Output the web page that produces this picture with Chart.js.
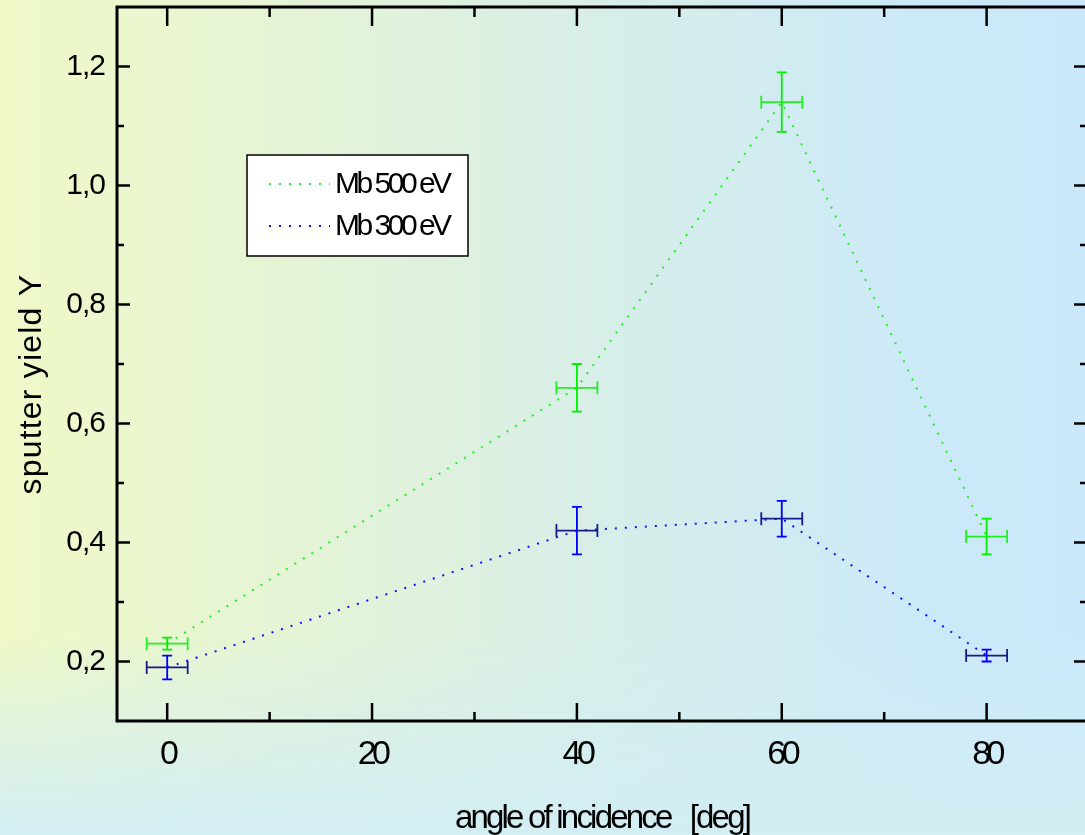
<!DOCTYPE html>
<html>
<head>
<meta charset="utf-8">
<script src="https://cdn.jsdelivr.net/npm/chart.js@4/dist/chart.umd.min.js"></script>
<style>
  html, body { margin: 0; padding: 0; overflow: hidden; }
  body {
    width: 1085px;
    height: 835px;
    background:
      linear-gradient(to bottom, rgba(210, 238, 244, 0) 76%, rgba(210, 238, 244, 1) 100%),
      linear-gradient(to right, #eff9c7 0%, #e3f3d9 32%, #d6eeea 58%, #cce9f8 85%, #cbe8fb 100%);
  }
  #wrap { position: absolute; left: 0; top: 0; width: 1100px; height: 835px; }
</style>
</head>
<body>
<div id="wrap"><canvas id="chart" width="1100" height="835"></canvas></div>
<script>
// angles [deg] and sputter yields
const angles = [0, 40, 60, 80];
const angleErr = [2, 2, 2, 2];
const yield500 = [0.23, 0.66, 1.14, 0.41];
const err500 = [0.01, 0.04, 0.05, 0.03];
const yield300 = [0.19, 0.42, 0.44, 0.21];
const err300 = [0.02, 0.04, 0.03, 0.01];

const xTickValues = [0, 10, 20, 30, 40, 50, 60, 70, 80];
const yTickValues = [0.2, 0.3, 0.4, 0.5, 0.6, 0.7, 0.8, 0.9, 1.0, 1.1, 1.2];
const xMajor = (v) => v % 20 === 0;
const yMajor = (v) => Math.round(v * 10) % 2 === 0;

const FONT = 'Liberation Sans, Arial, sans-serif';

const series = [
  { label: 'Mb 500 eV', y: yield500, err: err500, color: '#00f000', line: '#22f022', hbar: '#22f022' },
  { label: 'Mb 300 eV', y: yield300, err: err300, color: '#0000ff', line: '#1010ff', hbar: '#1a1a8c' },
];

// letter spacing per scale: [tick labels, title]
const spacing = { x: [-4.5, -2.8], y: [-1, 1.2] };

const textSpacing = {
  id: 'textSpacing',
  afterLayout(chart) {
    Object.keys(spacing).forEach((id) => {
      const scale = chart.scales[id];
      if (!scale || scale._spaced) return;
      ['drawLabels', 'drawTitle'].forEach((fn, k) => {
        const orig = scale[fn].bind(scale);
        scale[fn] = function (...args) {
          const ctx = chart.ctx;
          const prev = ctx.letterSpacing;
          ctx.letterSpacing = spacing[id][k] + 'px';
          orig(...args);
          ctx.letterSpacing = prev;
        };
      });
      scale._spaced = true;
    });
  },
};

// box round the plot with inward ticks on all four sides
const frame = {
  id: 'frame',
  afterDatasetsDraw(chart) {
    const { ctx, chartArea: a, scales } = chart;
    ctx.save();
    ctx.strokeStyle = '#000';
    ctx.lineWidth = 3;
    ctx.strokeRect(a.left, a.top, a.right - a.left, a.bottom - a.top);
    ctx.lineWidth = 2.5;
    ctx.beginPath();
    scales.x.ticks.forEach((t) => {
      const px = scales.x.getPixelForValue(t.value);
      const big = xMajor(t.value);
      ctx.moveTo(px, a.bottom);
      ctx.lineTo(px, a.bottom - (big ? 18 : 9));
      ctx.moveTo(px, a.top);
      ctx.lineTo(px, a.top + (big ? 19 : 10));
    });
    scales.y.ticks.forEach((t) => {
      const py = scales.y.getPixelForValue(t.value);
      const big = yMajor(t.value);
      ctx.moveTo(a.left, py);
      ctx.lineTo(a.left + (big ? 13 : 7), py);
      ctx.moveTo(a.right, py);
      ctx.lineTo(a.right - (big ? 13 : 7), py);
    });
    ctx.stroke();
    ctx.restore();
  },
};

const errorBars = {
  id: 'errorBars',
  afterDatasetsDraw(chart) {
    const { ctx, scales } = chart;
    const sx = scales.x, sy = scales.y;
    ctx.save();
    ctx.lineWidth = 1.8;
    series.forEach((s) => {
      angles.forEach((a, i) => {
        const cx = sx.getPixelForValue(a);
        const cy = sy.getPixelForValue(s.y[i]);
        const x0 = sx.getPixelForValue(a - angleErr[i]);
        const x1 = sx.getPixelForValue(a + angleErr[i]);
        const y0 = sy.getPixelForValue(s.y[i] - s.err[i]);
        const y1 = sy.getPixelForValue(s.y[i] + s.err[i]);
        ctx.strokeStyle = s.hbar;
        ctx.beginPath();
        ctx.moveTo(x0, cy); ctx.lineTo(x1, cy);
        ctx.moveTo(x0, cy - 6.5); ctx.lineTo(x0, cy + 6.5);
        ctx.moveTo(x1, cy - 6.5); ctx.lineTo(x1, cy + 6.5);
        ctx.stroke();
        ctx.strokeStyle = s.color;
        ctx.beginPath();
        ctx.moveTo(cx, y0); ctx.lineTo(cx, y1);
        ctx.moveTo(cx - 5, y0); ctx.lineTo(cx + 5, y0);
        ctx.moveTo(cx - 5, y1); ctx.lineTo(cx + 5, y1);
        ctx.stroke();
      });
    });
    ctx.restore();
  },
};

// legend box inside the plot
const boxLegend = {
  id: 'boxLegend',
  afterDraw(chart) {
    const ctx = chart.ctx;
    ctx.save();
    ctx.fillStyle = '#fff';
    ctx.fillRect(247, 155, 221, 101);
    ctx.strokeStyle = '#000';
    ctx.lineWidth = 1.5;
    ctx.strokeRect(247, 155, 221, 101);
    chart.data.datasets.forEach((ds, i) => {
      const y = 184 + i * 42;
      ctx.strokeStyle = ds.borderColor;
      ctx.lineWidth = 2;
      ctx.setLineDash(ds.borderDash);
      ctx.beginPath();
      ctx.moveTo(269, y);
      ctx.lineTo(330, y);
      ctx.stroke();
      ctx.setLineDash([]);
      ctx.fillStyle = '#000';
      ctx.font = '30px ' + FONT;
      ctx.letterSpacing = '-3.5px';
      ctx.textBaseline = 'middle';
      ctx.fillText(ds.label, 335, y + 1);
    });
    ctx.restore();
  },
};

new Chart(document.getElementById('chart'), {
  type: 'line',
  data: {
    datasets: series.map((s) => ({
      label: s.label,
      data: angles.map((a, i) => ({ x: a, y: s.y[i] })),
      borderColor: s.line,
      borderWidth: 2,
      borderDash: [2, 8],
      pointRadius: 0,
      tension: 0,
      fill: false,
    })),
  },
  options: {
    responsive: false,
    animation: false,
    layout: { padding: { top: 7, right: 13, left: 0, bottom: 0 } },
    plugins: { legend: { display: false }, tooltip: { enabled: false } },
    scales: {
      x: {
        type: 'linear',
        min: -4.9,
        max: 89.8,
        afterBuildTicks: (s) => { s.ticks = xTickValues.map((v) => ({ value: v })); },
        afterFit: (s) => { s.height = 114; s.paddingLeft = 0; s.paddingRight = 0; },
        grid: { display: false, drawTicks: false },
        border: { display: false },
        ticks: {
          padding: 13,
          color: '#000',
          font: { family: FONT, size: 34 },
          maxRotation: 0,
          autoSkip: false,
          callback: (v) => (xMajor(v) ? String(v) : ''),
        },
        title: {
          display: true,
          text: 'angle of incidence   [deg]',
          color: '#000',
          font: { family: FONT, size: 33, lineHeight: 1 },
          padding: { top: -2, bottom: 0 },
        },
      },
      y: {
        type: 'linear',
        min: 0.1,
        max: 1.3,
        afterBuildTicks: (s) => { s.ticks = yTickValues.map((v) => ({ value: v })); },
        afterFit: (s) => { s.width = 117; s.paddingTop = 0; s.paddingBottom = 0; },
        grid: { display: false, drawTicks: false },
        border: { display: false },
        ticks: {
          padding: 12,
          color: '#000',
          font: { family: FONT, size: 30 },
          autoSkip: false,
          callback: (v) => (yMajor(v) ? v.toFixed(1).replace('.', ',') : ''),
        },
        title: {
          display: true,
          text: 'sputter yield Y    ',
          color: '#000',
          font: { family: FONT, size: 32, lineHeight: 1.2 },
          padding: { top: 13, bottom: 0 },
        },
      },
    },
  },
  plugins: [textSpacing, frame, errorBars, boxLegend],
});
</script>
</body>
</html>
